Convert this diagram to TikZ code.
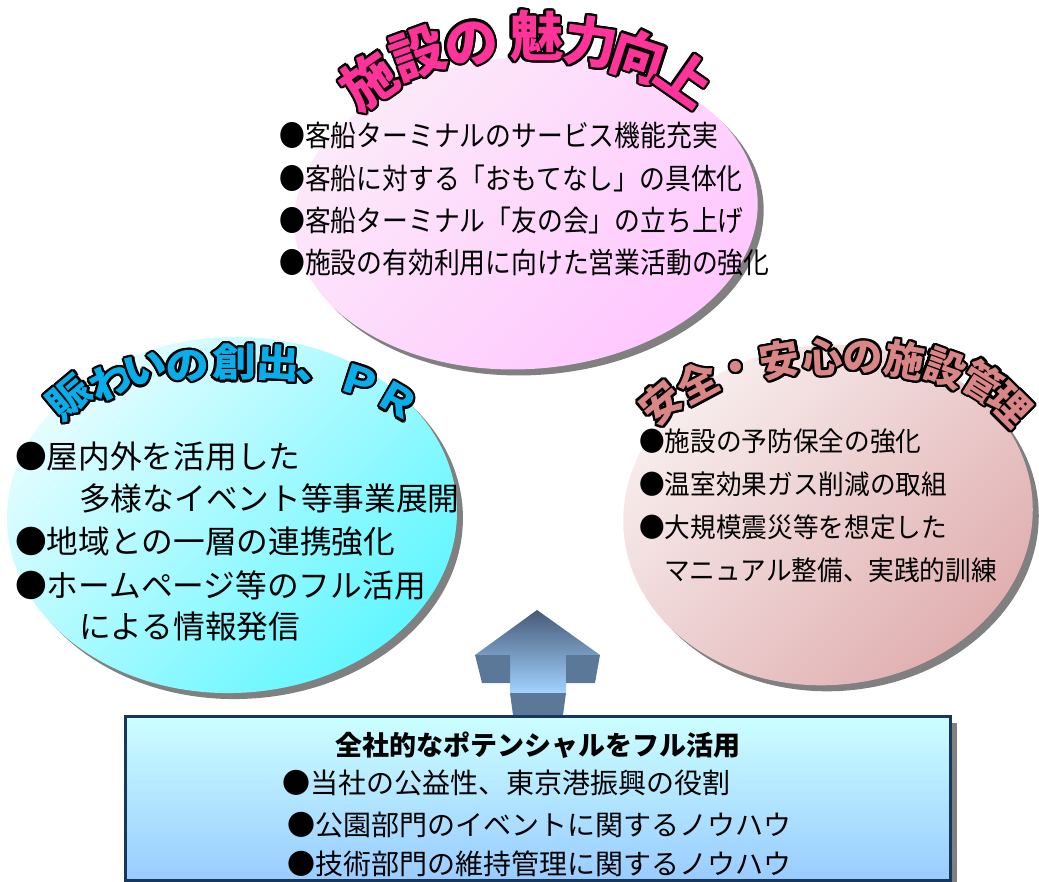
\documentclass[tikz,border=0pt]{standalone}
\usepackage{fontspec}
\usetikzlibrary{calc}
\newfontfamily\jp{Noto Sans CJK JP}
\newfontfamily\jpw[FakeStretch=1.12]{Noto Sans CJK JP}
\newfontfamily\jpc[FakeStretch=0.89]{Noto Sans CJK JP}
\newfontfamily\jpr[FakeStretch=0.95]{Noto Sans CJK JP}
\definecolor{titlePink}{HTML}{FF3399}
\definecolor{titleBlue}{HTML}{08AEEA}
\definecolor{titleRose}{HTML}{DB8686}
\definecolor{pinkA}{HTML}{FCEAF9}
\definecolor{pinkB}{HTML}{FFC6FF}
\definecolor{cyanA}{HTML}{E6FDFF}
\definecolor{cyanB}{HTML}{60F6FF}
\definecolor{roseA}{HTML}{F8EEEE}
\definecolor{roseB}{HTML}{E0ADAE}
\definecolor{shadowGray}{HTML}{808080}
\definecolor{arrowTop}{HTML}{465A78}
\definecolor{arrowBot}{HTML}{A2D2FF}
\definecolor{arrowSide}{HTML}{5B7899}
\definecolor{boxTop}{HTML}{CCFFFF}
\definecolor{boxBot}{HTML}{99CCFF}
\definecolor{boxLine}{HTML}{17375E}
% outlined title character: style, name, x, y (ink centre), rotation, centre-to-baseline distance, text
\newcommand\tchar[7]{%
  \coordinate (#2b) at ($(#3,#4)+({#6*sin(#5)},{#6*cos(#5)})$);
  \foreach \ang in {0,22.5,...,337.5}{\node[#1, text=black, rotate=#5, anchor=base] at ($(#2b)+(\ang:2.3)$) {#7};}%
  \node[#1, rotate=#5, anchor=base] (#2) at (#2b) {#7};}
\begin{document}
\begin{tikzpicture}[x=1pt,y=-1pt,
  ttlA/.style={font=\jp\bfseries\fontsize{54}{54}\selectfont, text=titlePink, inner sep=0},
  ttlB/.style={font=\jpw\bfseries\fontsize{39}{39}\selectfont, text=titleBlue, inner sep=0},
  ttlC/.style={font=\jp\bfseries\fontsize{40}{40}\selectfont, text=titleRose, inner sep=0},
  bodyA/.style={font=\jpc\fontsize{29}{29}\selectfont, anchor=west, inner sep=0},
  bodyB/.style={font=\jp\fontsize{31.7}{31.7}\selectfont, anchor=west, inner sep=0},
  bodyC/.style={font=\jpr\fontsize{27}{27}\selectfont, anchor=west, inner sep=0},
  bodyD/.style={font=\jp\fontsize{28}{28}\selectfont, anchor=west, inner sep=0},
  boxTitle/.style={font=\jp\bfseries\fontsize{27}{27}\selectfont, inner sep=0},
  shadowfill/.style={fill=shadowGray},
  sideface/.style={fill=arrowSide}]
\useasboundingbox (0,0) rectangle (1039,882);
% ellipses
\fill[shadowfill, rotate around={2:(238,521)}] (238,521) ellipse [x radius=225, y radius=178];
\shade[top color=cyanA, bottom color=cyanB, shading angle=45, rotate around={2:(232,515)}] (232,515) ellipse [x radius=225, y radius=178];
\fill[shadowfill, rotate around={5:(834,521)}] (834,521) ellipse [x radius=205, y radius=170];
\shade[top color=roseA, bottom color=roseB, shading angle=45, rotate around={5:(828,515)}] (828,515) ellipse [x radius=205, y radius=170];
\fill[shadowfill, rotate around={4:(532,219)}] (532,219) ellipse [x radius=232, y radius=156];
\shade[top color=pinkA, bottom color=pinkB, shading angle=45, rotate around={4:(526,213)}] (526,213) ellipse [x radius=232, y radius=156];
% top title
\tchar{ttlA}{a1}{369}{81}{35}{20.5}{施}
\tchar{ttlA}{a2}{418}{53}{20}{20.5}{設}
\tchar{ttlA}{a3}{471}{42}{8}{20.5}{の}
\tchar{ttlA}{a4}{537}{36}{0}{20.5}{魅}
\tchar{ttlA}{a5}{591}{42}{-8}{20.5}{力}
\tchar{ttlA}{a6}{639}{56}{-18}{20.5}{向}
\tchar{ttlA}{a7}{685}{78}{-35}{20.5}{上}
% left title
\tchar{ttlB}{b1}{69}{397}{40}{14.8}{賑}
\tchar{ttlB}{b2}{111}{381}{25}{14.8}{わ}
\tchar{ttlB}{b3}{145}{368}{15}{14.8}{い}
\tchar{ttlB}{b4}{187}{365}{7}{14.8}{の}
\tchar{ttlB}{b5}{234}{362}{0}{14.8}{創}
\tchar{ttlB}{b6}{278}{363}{-3}{14.8}{出}
\tchar{ttlB}{b7}{318}{366}{-6}{14.8}{、}
\tchar{ttlB}{b8}{360}{381}{-18}{14.8}{Ｐ}
\tchar{ttlB}{b9}{398}{400}{-30}{14.8}{Ｒ}
% right title
\tchar{ttlC}{c1}{661}{403}{40}{15.2}{安}
\tchar{ttlC}{c2}{698}{383}{28}{15.2}{全}
\tchar{ttlC}{c3}{736}{367}{18}{15.2}{・}
\tchar{ttlC}{c4}{780}{360}{10}{15.2}{安}
\tchar{ttlC}{c5}{823}{357}{3}{15.2}{心}
\tchar{ttlC}{c6}{863}{356}{-2}{15.2}{の}
\tchar{ttlC}{c7}{905}{360}{-10}{15.2}{施}
\tchar{ttlC}{c8}{945}{368}{-20}{15.2}{設}
\tchar{ttlC}{c9}{983}{382}{-32}{15.2}{管}
\tchar{ttlC}{c10}{1010}{405}{-45}{15.2}{理}
% top body
\node[bodyA] (ta) at (279,135) {●客船ターミナルのサービス機能充実};
\node[bodyA] (tb) at (279,178) {●客船に対する「おもてなし」の具体化};
\node[bodyA] (tc) at (279,220) {●客船ターミナル「友の会」の立ち上げ};
\node[bodyA] (td) at (279,263) {●施設の有効利用に向けた営業活動の強化};
% left body
\node[bodyB] (la) at (15,457) {●屋内外を活用した};
\node[bodyB] (lb) at (79,498) {多様なイベント等事業展開};
\node[bodyB] (lc) at (15,542) {●地域との一層の連携強化};
\node[bodyB] (ld) at (15,585) {●ホームページ等のフル活用};
\node[bodyB] (le) at (79,627) {による情報発信};
% right body
\node[bodyC] (ra) at (639,441) {●施設の予防保全の強化};
\node[bodyC] (rb) at (639,484) {●温室効果ガス削減の取組};
\node[bodyC] (rc) at (639,527) {●大規模震災等を想定した};
\node[bodyC] (rd) at (664,570) {マニュアル整備、実践的訓練};
% arrow
\shade[top color=arrowTop, bottom color=arrowBot] (537,610) -- (600,655) -- (566,655) -- (566,693) -- (510,693) -- (510,655) -- (475,655) -- cycle;
\fill[sideface] (475,655) -- (510,655) -- (510,683) -- (482,683) -- cycle;
\fill[sideface] (566,655) -- (600,655) -- (595,683) -- (566,683) -- cycle;
\fill[sideface] (510,693) -- (566,693) -- (563,715) -- (513,715) -- cycle;
% bottom box
\fill[shadowfill] (132,723) rectangle (957,882);
\shadedraw[top color=boxTop, bottom color=boxBot, draw=boxLine, line width=3] (125,716) rectangle (950,880);
\node[boxTitle] (bt) at (538,745) {全社的なポテンシャルをフル活用};
\node[bodyD] (ba) at (282,783) {●当社の公益性、東京港振興の役割};
\node[bodyD] (bb) at (287,825) {●公園部門のイベントに関するノウハウ};
\node[bodyD] (bc) at (287,864) {●技術部門の維持管理に関するノウハウ};
\end{tikzpicture}
\end{document}
